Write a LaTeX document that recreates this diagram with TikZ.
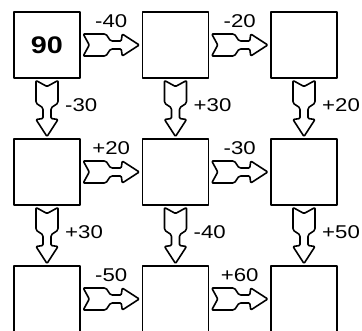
\documentclass[tikz,border=0pt]{standalone}
\usepackage{fontspec}
\setmainfont{Liberation Sans}[FakeStretch=1.2]
\begin{document}
\begin{tikzpicture}[x=1pt,y=-1pt, font=\fontsize{18.5}{22}\selectfont, line join=round, line cap=round,
	box/.style={draw, line width=1.5pt, minimum size=66pt, inner sep=0pt},
	fatarrow/.pic={\draw[line width=1.6pt, rounded corners=1pt] (-28,11) -- (-8,11) .. controls (-3,11) and (-3,4) .. (2,4) -- (10,4) -- (11,11) -- (28,0) -- (11,-11) -- (10,-4) -- (2,-4) .. controls (-3,-4) and (-3,-11) .. (-8,-11) -- (-28,-11) -- (-22,0) -- cycle;},
	hstep/.style={pos=.5, sloped, allow upside down},
	hlab/.style={midway, above=15pt, inner sep=2pt},
	vlab/.style={midway, right=16pt, yshift=3pt, inner sep=2pt}]
	\useasboundingbox (0,0) rectangle (362,331);
	% boxes
	\node[box] (b11) at (47,45) {\fontsize{24}{28}\selectfont\bfseries 90};
	\node[box] (b12) at (175.5,45) {};
	\node[box] (b13) at (304,45) {};
	\node[box] (b21) at (47,172) {};
	\node[box] (b22) at (175.5,172) {};
	\node[box] (b23) at (304,172) {};
	\node[box] (b31) at (47,299) {};
	\node[box] (b32) at (175.5,299) {};
	\node[box] (b33) at (304,299) {};
	% across
	\path (b11) -- (b12) pic[hstep]{fatarrow} node[hlab]{-40};
	\path (b12) -- (b13) pic[hstep]{fatarrow} node[hlab]{-20};
	\path (b21) -- (b22) pic[hstep]{fatarrow} node[hlab]{+20};
	\path (b22) -- (b23) pic[hstep]{fatarrow} node[hlab]{-30};
	\path (b31) -- (b32) pic[hstep]{fatarrow} node[hlab]{-50};
	\path (b32) -- (b33) pic[hstep]{fatarrow} node[hlab]{+60};
	% down
	\path (b11) -- (b21) pic[hstep]{fatarrow} node[vlab]{-30};
	\path (b12) -- (b22) pic[hstep]{fatarrow} node[vlab]{+30};
	\path (b13) -- (b23) pic[hstep]{fatarrow} node[vlab]{+20};
	\path (b21) -- (b31) pic[hstep]{fatarrow} node[vlab]{+30};
	\path (b22) -- (b32) pic[hstep]{fatarrow} node[vlab]{-40};
	\path (b23) -- (b33) pic[hstep]{fatarrow} node[vlab]{+50};
\end{tikzpicture}
\end{document}
